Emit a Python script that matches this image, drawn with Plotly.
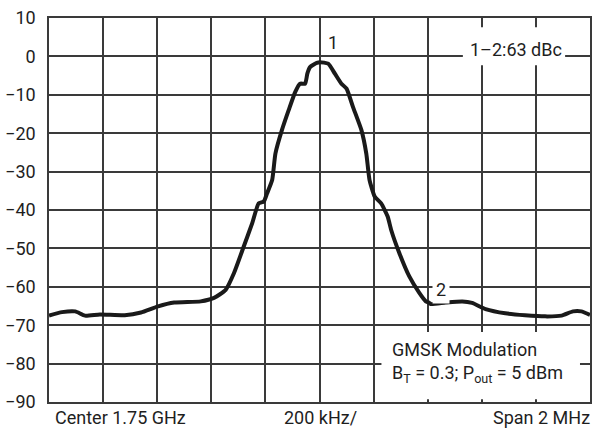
import plotly.graph_objects as go

# Frequency offset from center (kHz) and level (dB)
freq_khz = [-1000, -952, -903, -867, -812, -720, -660, -597, -537, -439, -390, -347,
            -316, -280, -249, -225, -206, -194, -175, -163, -139, -114, -90, -72,
            -53, -45, -35, -10, 2, 32, 57, 81, 100, 124, 155, 173, 185, 204, 228,
            252, 265, 295, 332, 369, 393, 406, 412, 467, 528, 564, 614, 687, 760,
            834, 895, 937, 968, 1000]
level_db = [-67.5, -66.6, -66.4, -67.5, -67.2, -67.4, -66.7, -65.1, -64.1, -63.8, -62.9, -60.8,
            -56.4, -49.5, -43.5, -38.3, -37.8, -35.7, -32.2, -25.3, -19.2, -14.0, -9.3, -7.1,
            -7.1, -4.5, -2.8, -1.7, -1.5, -1.9, -4.5, -7.1, -8.4, -13.2, -19.2, -25.3, -32.2, -36.5, -38.3,
            -41.7, -45.2, -51.2, -57.3, -61.6, -63.8, -64.2, -64.5, -64.1, -63.8, -64.2, -65.8, -66.9, -67.4,
            -67.7, -67.5, -66.4, -66.4, -67.3]

y_ticks = [10, 0, -10, -20, -30, -40, -50, -60, -70, -80, -90]
x_ticks = [-1000, -800, -600, -400, -200, 0, 200, 400, 600, 800, 1000]

bottom_labels = ["Center 1.75 GHz", "200 kHz/", "Span 2 MHz"]
delta_label = "1–2:63 dBc"
mod_label_1 = "GMSK Modulation"
mod_label_2 = "B<sub>T</sub> = 0.3; P<sub>out</sub> = 5 dBm"

FONT = "Roboto, Liberation Sans, Arial, sans-serif"
FS = 18
TXT = "#1e1e1e"
GRID = "#3a3a3a"

fig = go.Figure()
fig.add_trace(go.Scatter(
    x=freq_khz, y=level_db, mode="lines",
    line=dict(color="#1a1a1a", width=4, shape="spline", smoothing=0.5),
    hoverinfo="skip", showlegend=False,
))

# white label backgrounds covering the grid
for x0, x1, y0, y1 in [(530, 908, -2.3, 7.6), (229, 963, -89.3, -71.8)]:
    fig.add_shape(type="rect", xref="x", yref="y", x0=x0, x1=x1, y0=y0, y1=y1,
                  fillcolor="white", line=dict(width=0), layer="above")

f = dict(family=FONT, size=FS, color=TXT)
ann = []
ann.append(dict(x=50, y=3.6, xref="x", yref="y", text="1", showarrow=False, font=f))
ann.append(dict(x=448, y=-60.7, xref="x", yref="y", text="2", showarrow=False, font=f,
                bgcolor="white", borderpad=3))
ann.append(dict(x=725, y=1.9, xref="x", yref="y", text=delta_label, showarrow=False, font=f))
ann.append(dict(x=262, y=-76.3, xref="x", yref="y", text=mod_label_1, showarrow=False,
                xanchor="left", font=f))
ann.append(dict(x=262, y=-82.8, xref="x", yref="y", text=mod_label_2, showarrow=False,
                xanchor="left", font=f))
ann.append(dict(x=0.008, y=-0.04, xref="paper", yref="paper", text=bottom_labels[0],
                showarrow=False, xanchor="left", yanchor="middle", font=f))
ann.append(dict(x=0.501, y=-0.04, xref="paper", yref="paper", text=bottom_labels[1],
                showarrow=False, xanchor="center", yanchor="middle", font=f))
ann.append(dict(x=1.004, y=-0.04, xref="paper", yref="paper", text=bottom_labels[2],
                showarrow=False, xanchor="right", yanchor="middle", font=f))

fig.update_layout(
    width=597, height=428,
    margin=dict(l=47, r=5, t=18, b=26),
    paper_bgcolor="white", plot_bgcolor="white",
    annotations=ann,
    xaxis=dict(range=[-1000, 1000], tickvals=x_ticks, showticklabels=False,
               showgrid=True, gridcolor=GRID, gridwidth=1.5, zeroline=False,
               showline=True, linecolor=GRID, linewidth=1.5, mirror=True, ticks=""),
    yaxis=dict(range=[-90, 10], tickvals=y_ticks, showgrid=True, gridcolor=GRID,
               gridwidth=1.5, zeroline=False, showline=True, linecolor=GRID,
               linewidth=1.5, mirror=True, ticks="", ticklabelstandoff=8,
               tickfont=f),
)

fig.write_html("out.html")
